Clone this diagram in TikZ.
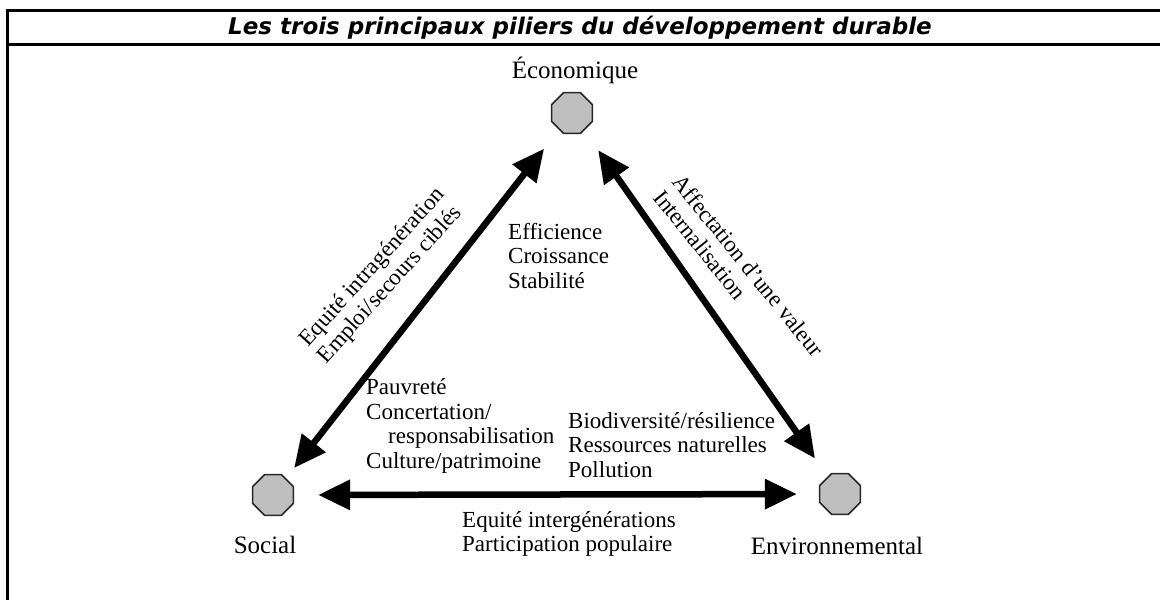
\documentclass[tikz,border=0pt]{standalone}
\usepackage{fontspec}
\setmainfont{Liberation Serif}
\newfontfamily\titlefont{DejaVu Sans}
\usetikzlibrary{arrows.meta,shapes.geometric}
\begin{document}
\begin{tikzpicture}[x=1pt,y=-1pt,
  pillar/.style={regular polygon, regular polygon sides=8, minimum size=44pt, inner sep=0pt, fill=gray!50, draw=black!85, line width=1.6pt},
  pname/.style={font=\fontsize{25}{28}\selectfont, inner sep=0pt},
  lbl/.style={font=\fontsize{23}{24.5}\selectfont, align=left, inner sep=0pt},
  link/.style={line width=6.5pt, {Triangle[length=32pt,width=29pt]}-{Triangle[length=32pt,width=29pt]}},
  frame/.style={line width=3pt}]
\useasboundingbox (0,0) rectangle (1160,600);
\draw[frame] (7,600) -- (7,10) -- (1160,10);
\draw[frame] (7,44) -- (1160,44);
\node[inner sep=0pt, anchor=base, font=\titlefont\bfseries\itshape\fontsize{23}{26}\selectfont] (title) at (580,34) {Les trois principaux piliers du développement durable};

\node[pillar] (econ) at (572,113) {};
\node[pillar] (soc) at (273,495) {};
\node[pillar] (env) at (840,494) {};

\node[pname] (econlbl) at (575,70) {Économique};
\node[pname] (soclbl) at (265,545) {Social};
\node[pname] (envlbl) at (837,546) {Environnemental};

\draw[link, shorten <=13pt, shorten >=24pt] (soc) -- (econ);
\draw[link, shorten <=24pt, shorten >=22pt] (econ) -- (env);
\draw[link, shorten <=24pt, shorten >=22pt] (soc) -- (env);

\node[lbl, anchor=west] (eco) at (508,256) {Efficience\\Croissance\\Stabilité};
\node[lbl, anchor=west] (socl) at (366,426) {Pauvreté\\Concertation/\\\hspace*{22pt}responsabilisation\\Culture/patrimoine};
\node[lbl, anchor=west] (envl) at (568,445) {Biodiversité/résilience\\Ressources naturelles\\Pollution};
\node[lbl, anchor=west] (se) at (462,534) {Equité intergénérations\\Participation populaire};
\node[lbl, rotate=48] (ec) at (382,276) {Equité intragénération\\Emploi/secours ciblés};
\node[lbl, rotate=-51] (ee) at (739,273) {Affectation d'une valeur\\Internalisation};
\end{tikzpicture}
\end{document}
